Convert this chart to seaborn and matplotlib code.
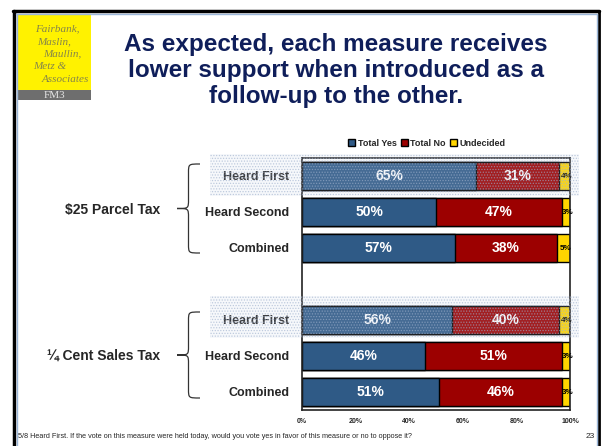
import matplotlib
matplotlib.use("Agg")
import matplotlib.pyplot as plt
from matplotlib.patches import Rectangle, PathPatch, Patch
from matplotlib.path import Path
import seaborn as sns
import pandas as pd

# data
groups = ["$25 Parcel Tax", "¼ Cent Sales Tax"]
rows = ["Heard First", "Heard Second", "Combined"]
yes_parcel = [65, 50, 57]
no_parcel = [31, 47, 38]
und_parcel = [4, 3, 5]
yes_sales = [56, 46, 51]
no_sales = [40, 51, 46]
und_sales = [4, 3, 3]
x_ticks = [0, 20, 40, 60, 80, 100]
title_lines = ["As expected, each measure receives",
               "lower support when introduced as a",
               "follow-up to the other."]

sns.set_style("white")
plt.rcParams["font.family"] = ["Liberation Sans", "DejaVu Sans"]
plt.rcParams["hatch.linewidth"] = 0.6

YES_C = "#2F5A86"
NO_C = "#9C0000"
UND_C = "#FFD500"
NAVY = "#0F1E5A"

W, H = 602, 446
fig = plt.figure(figsize=(W / 100, H / 100), dpi=100)


def fx(x):
    return x / W


def fy(y):
    return 1 - y / H


# build table (with a spacer row between the two measures)
records = []
for g, ys, ns, us in [(0, yes_parcel, no_parcel, und_parcel),
                      (1, yes_sales, no_sales, und_sales)]:
    for r, y, n, u in zip(rows, ys, ns, us):
        records.append({"key": f"{g}-{r}", "row": r, "yes": y, "no": n, "und": u})
df = pd.DataFrame(records)
df["yes_no"] = df["yes"] + df["no"]
df["total"] = df["yes_no"] + df["und"]
order = [f"0-{r}" for r in rows] + ["gap"] + [f"1-{r}" for r in rows]

ax = fig.add_axes([fx(302), fy(410), (570 - 302) / W, (410 - 158) / H])
kw = dict(y="key", orient="h", order=order, width=0.8, edgecolor="black", linewidth=1.0, ax=ax)
sns.barplot(data=df, x="total", color=UND_C, saturation=1, **kw)
sns.barplot(data=df, x="yes_no", color=NO_C, saturation=1, **kw)
sns.barplot(data=df, x="yes", color=YES_C, saturation=1, **kw)

# value labels
for _, rr in df.iterrows():
    yi = order.index(rr["key"])
    ax.text(rr["yes"] / 2, yi, f"{rr['yes']}%", ha="center", va="center",
            color="white", fontsize=10, fontweight="bold")
    ax.text(rr["yes"] + rr["no"] / 2, yi, f"{rr['no']}%", ha="center", va="center",
            color="white", fontsize=10, fontweight="bold")
    ax.text(rr["yes_no"] + rr["und"] / 2 + 0.8, yi, f"{rr['und']}%", ha="center", va="center",
            color="black", fontsize=5.8, fontweight="bold")

ax.set_xlim(0, 100)
ax.set_xticks(x_ticks)
ax.set_xticklabels([f"{t}%" for t in x_ticks], fontsize=5, fontweight="bold")
ax.set_yticks(range(len(order)))
ax.set_yticklabels([k.split("-", 1)[1] if k != "gap" else "" for k in order],
                   fontsize=9, fontweight="bold")
ax.set_xlabel("")
ax.set_ylabel("")
ax.tick_params(axis="x", length=3, width=0.8, direction="inout", pad=4, color="black")
ax.tick_params(axis="y", length=0, pad=9)
for s in ax.spines.values():
    s.set_color("#222222")
    s.set_linewidth(1.2)

handles = [Patch(facecolor=YES_C, edgecolor="black", label="Total Yes"),
           Patch(facecolor=NO_C, edgecolor="black", label="Total No"),
           Patch(facecolor=UND_C, edgecolor="black", label="Undecided")]
ax.legend(handles=handles, ncol=3, loc="center", bbox_to_anchor=((427 - 302) / 268, 1 + 15 / 252),
          frameon=False, prop={"size": 6.5, "weight": "bold"}, handlelength=0.75, handleheight=0.75,
          handletextpad=0.3, columnspacing=0.5, borderaxespad=0)

# dotted highlight over the "Heard First" rows
for y0, y1 in [(154, 196), (296, 338)]:
    fig.add_artist(Rectangle((fx(210), fy(y1)), fx(579) - fx(210), fy(y0) - fy(y1),
                             transform=fig.transFigure, facecolor=(0.78, 0.82, 0.9, 0.15),
                             edgecolor=(0.62, 0.69, 0.8, 0.6), hatch="......", linewidth=0, zorder=5))


# curly braces
def brace(x_tip, x_end, y_top, y_bot):
    yc = (y_top + y_bot) / 2
    xm = (x_tip + x_end) / 2
    r = 9
    verts = [(x_end, y_top),
             (xm, y_top), (xm, y_top), (xm, y_top + r),
             (xm, yc - r),
             (xm, yc), (xm, yc), (x_tip, yc),
             (xm, yc), (xm, yc), (xm, yc + r),
             (xm, y_bot - r),
             (xm, y_bot), (xm, y_bot), (x_end, y_bot)]
    codes = [Path.MOVETO, Path.CURVE4, Path.CURVE4, Path.CURVE4, Path.LINETO,
             Path.CURVE4, Path.CURVE4, Path.CURVE4, Path.CURVE4, Path.CURVE4, Path.CURVE4,
             Path.LINETO, Path.CURVE4, Path.CURVE4, Path.CURVE4]
    verts = [(fx(a), fy(b)) for a, b in verts]
    fig.add_artist(PathPatch(Path(verts, codes), transform=fig.transFigure,
                             fill=False, edgecolor="#333333", linewidth=0.9))


brace(177, 200, 164, 253)
brace(177, 200, 312, 398)
fig.text(fx(160), fy(210), groups[0], ha="right", va="center", fontsize=10, fontweight="bold")
fig.text(fx(160), fy(356), groups[1], ha="right", va="center", fontsize=10, fontweight="bold")

# title, one line at a time
for i, line in enumerate(title_lines):
    fig.text(fx(336), fy(45 + i * 25.5), line, ha="center", va="center",
             fontsize=17.5, fontweight="bold", color=NAVY)

# logo
fig.add_artist(Rectangle((fx(18), fy(90)), fx(91) - fx(18), fy(15) - fy(90),
                         transform=fig.transFigure, facecolor="#FFF200", edgecolor="none"))
fig.add_artist(Rectangle((fx(18), fy(100)), fx(91) - fx(18), fy(90) - fy(100),
                         transform=fig.transFigure, facecolor="#6E6E6E", edgecolor="none"))
logo_lines = [("Fairbank,", 80), ("Maslin,", 71), ("Maullin,", 81), ("Metz &", 66), ("Associates", 89)]
for i, (t, xr) in enumerate(logo_lines):
    fig.text(fx(xr), fy(29 + i * 12.5), t, ha="right", va="center", fontsize=8,
             style="italic", color="#85854A", family=["Liberation Serif", "DejaVu Serif"])
fig.text(fx(54.5), fy(95.5), "FM3", ha="center", va="center", fontsize=8, color="#E6E6E6",
         family=["Liberation Serif", "DejaVu Serif"])

# slide frame
fig.add_artist(plt.Line2D([fx(13), fx(599)], [fy(11), fy(11)], transform=fig.transFigure,
                          color="black", linewidth=2.5))
fig.add_artist(plt.Line2D([fx(14), fx(14)], [fy(11), fy(446)], transform=fig.transFigure,
                          color="black", linewidth=2.5))
fig.add_artist(plt.Line2D([fx(599), fx(599)], [fy(11), fy(446)], transform=fig.transFigure,
                          color="black", linewidth=2))
fig.add_artist(plt.Line2D([fx(16), fx(597)], [fy(13.5), fy(13.5)], transform=fig.transFigure,
                          color="#9DB8DA", linewidth=1))
fig.add_artist(plt.Line2D([fx(16.5), fx(16.5)], [fy(13.5), fy(446)], transform=fig.transFigure,
                          color="#9DB8DA", linewidth=1))
fig.add_artist(plt.Line2D([fx(596.5), fx(596.5)], [fy(13.5), fy(446)], transform=fig.transFigure,
                          color="#9DB8DA", linewidth=1))

# footer
fig.text(fx(18), fy(437), "5/8 Heard First. If the vote on this measure were held today, would you vote yes in favor of this measure or no to oppose it?",
         ha="left", va="center", fontsize=5.2)
fig.text(fx(590), fy(437), "23", ha="center", va="center", fontsize=6)

fig.savefig("out.png", dpi=100)
